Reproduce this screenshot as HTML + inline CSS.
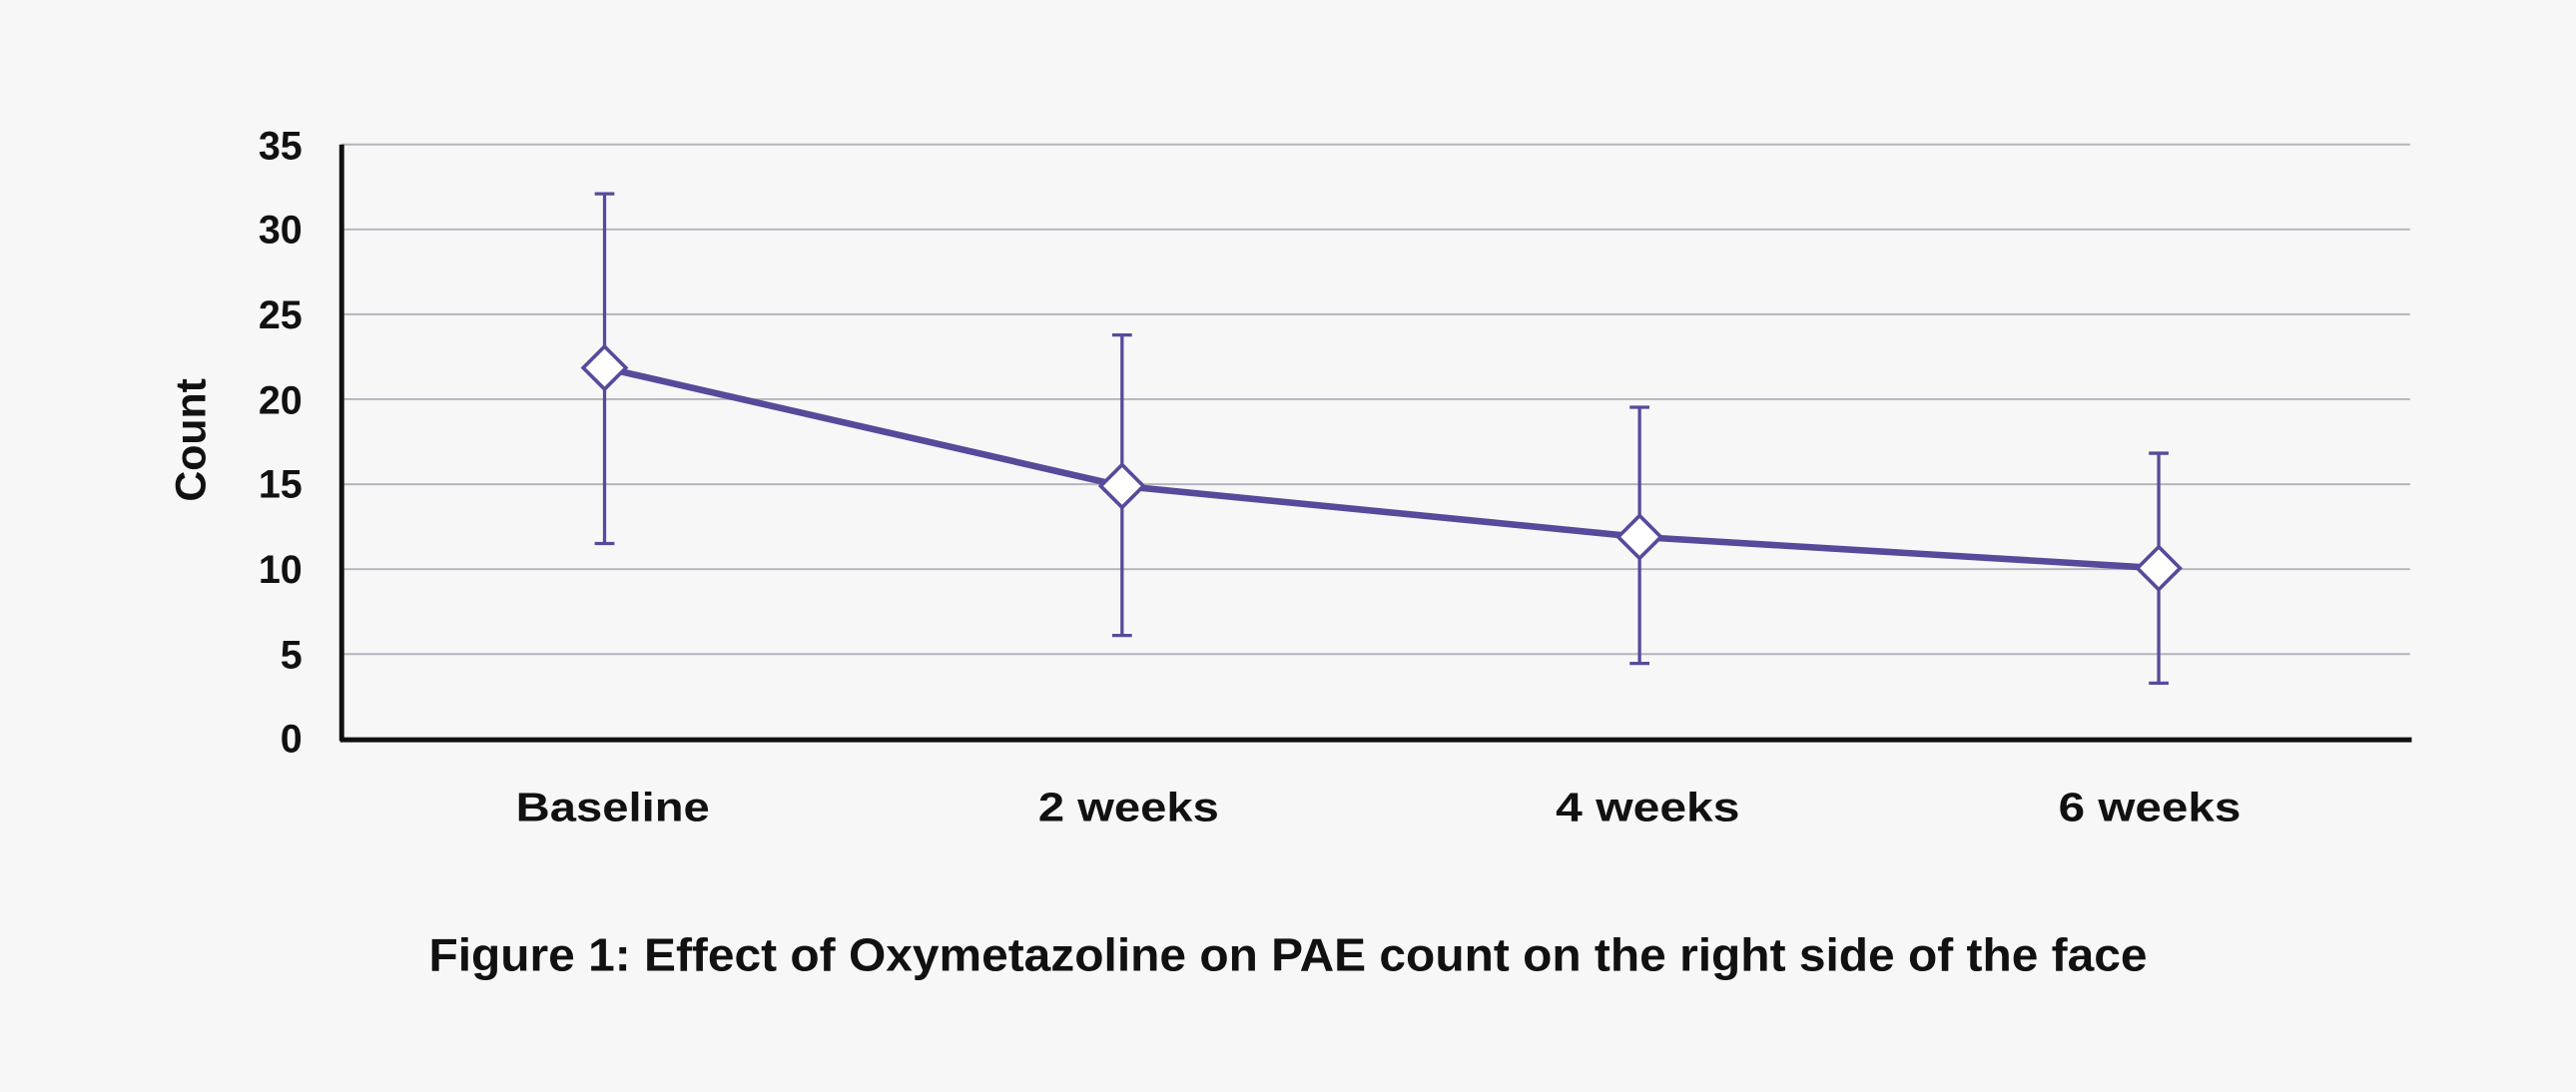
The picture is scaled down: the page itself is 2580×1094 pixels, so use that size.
<!DOCTYPE html>
<html><head><meta charset="utf-8"><style>
html,body{margin:0;padding:0;background:#f7f7f8;}
svg{display:block;}
text{font-family:"Liberation Sans",sans-serif;font-weight:bold;fill:#111;}
</style></head><body>
<svg width="2580" height="1094" viewBox="0 0 1568 665" preserveAspectRatio="none">
<rect width="1568" height="665" fill="#f7f7f8"/>
<g stroke="#b4b4bc" stroke-width="1.2">
<line x1="208" y1="88" x2="1467" y2="88"/>
<line x1="208" y1="139.7" x2="1467" y2="139.7"/>
<line x1="208" y1="191.4" x2="1467" y2="191.4"/>
<line x1="208" y1="243.1" x2="1467" y2="243.1"/>
<line x1="208" y1="294.9" x2="1467" y2="294.9"/>
<line x1="208" y1="346.6" x2="1467" y2="346.6"/>
<line x1="208" y1="398.3" x2="1467" y2="398.3"/>
</g>
<line x1="208" y1="88" x2="208" y2="451" stroke="#111" stroke-width="3"/>
<line x1="207" y1="450.5" x2="1468" y2="450.5" stroke="#111" stroke-width="3"/>
<g font-size="24" text-anchor="end">
<text x="184" y="97">35</text><text x="184" y="148">30</text><text x="184" y="200">25</text>
<text x="184" y="252">20</text><text x="184" y="303">15</text><text x="184" y="355">10</text>
<text x="184" y="407">5</text><text x="184" y="458">0</text>
</g>
<text x="125" y="268" font-size="26" text-anchor="middle" transform="rotate(-90 125 268)">Count</text>
<g font-size="25">
<text x="314" y="500" textLength="118" lengthAdjust="spacingAndGlyphs">Baseline</text>
<text x="632" y="500" textLength="110" lengthAdjust="spacingAndGlyphs">2 weeks</text>
<text x="947" y="500" textLength="112" lengthAdjust="spacingAndGlyphs">4 weeks</text>
<text x="1253" y="500" textLength="111" lengthAdjust="spacingAndGlyphs">6 weeks</text>
</g>
<text x="261" y="591" font-size="28" textLength="1046" lengthAdjust="spacingAndGlyphs">Figure 1: Effect of Oxymetazoline on PAE count on the right side of the face</text>
<g stroke="#574a9a" stroke-width="2" fill="none">
<line x1="368" y1="118" x2="368" y2="331"/><line x1="362" y1="118" x2="374" y2="118"/><line x1="362" y1="331" x2="374" y2="331"/>
<line x1="683" y1="204" x2="683" y2="387"/><line x1="677" y1="204" x2="689" y2="204"/><line x1="677" y1="387" x2="689" y2="387"/>
<line x1="998" y1="248" x2="998" y2="404"/><line x1="992" y1="248" x2="1004" y2="248"/><line x1="992" y1="404" x2="1004" y2="404"/>
<line x1="1314" y1="276" x2="1314" y2="416"/><line x1="1308" y1="276" x2="1320" y2="276"/><line x1="1308" y1="416" x2="1320" y2="416"/>
</g>
<polyline points="368,224 683,296 998,327 1314,346" fill="none" stroke="#574a9a" stroke-width="4"/>
<g fill="#fff" stroke="#574a9a" stroke-width="2.2">
<polygon points="368,211 381,224 368,237 355,224"/>
<polygon points="683,283 696,296 683,309 670,296"/>
<polygon points="998,314 1011,327 998,340 985,327"/>
<polygon points="1314,333 1327,346 1314,359 1301,346"/>
</g>
</svg>
</body></html>
